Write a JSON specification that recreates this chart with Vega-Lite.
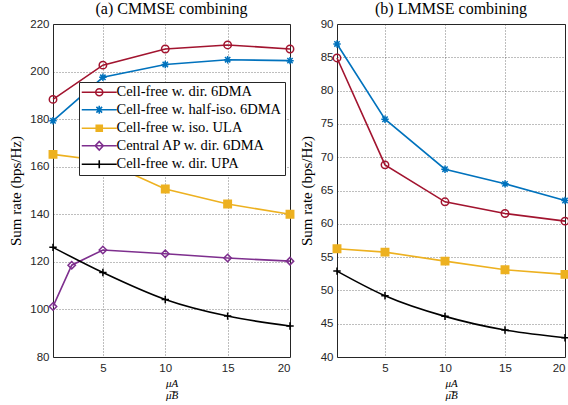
{
  "$schema": "https://vega.github.io/schema/vega-lite/v6.json",
  "padding": {"left": 8, "top": 0, "right": 0, "bottom": 0},
  "spacing": 0,
  "background": "white",
  "datasets": {
    "rates": [
      {"panel": "a", "series": "Cell-free w. dir. 6DMA", "x": 1, "y": 188.3},
      {"panel": "a", "series": "Cell-free w. dir. 6DMA", "x": 5, "y": 202.7},
      {"panel": "a", "series": "Cell-free w. dir. 6DMA", "x": 10, "y": 209.5},
      {"panel": "a", "series": "Cell-free w. dir. 6DMA", "x": 15, "y": 211.2},
      {"panel": "a", "series": "Cell-free w. dir. 6DMA", "x": 20, "y": 209.5},
      {"panel": "a", "series": "Cell-free w. half-iso. 6DMA", "x": 1, "y": 179.3},
      {"panel": "a", "series": "Cell-free w. half-iso. 6DMA", "x": 5, "y": 197.6},
      {"panel": "a", "series": "Cell-free w. half-iso. 6DMA", "x": 10, "y": 203.0},
      {"panel": "a", "series": "Cell-free w. half-iso. 6DMA", "x": 15, "y": 205.0},
      {"panel": "a", "series": "Cell-free w. half-iso. 6DMA", "x": 20, "y": 204.6},
      {"panel": "a", "series": "Cell-free w. iso. ULA", "x": 1, "y": 165.2},
      {"panel": "a", "series": "Cell-free w. iso. ULA", "x": 5, "y": 162.5},
      {"panel": "a", "series": "Cell-free w. iso. ULA", "x": 10, "y": 150.6},
      {"panel": "a", "series": "Cell-free w. iso. ULA", "x": 15, "y": 144.3},
      {"panel": "a", "series": "Cell-free w. iso. ULA", "x": 20, "y": 140.0},
      {"panel": "a", "series": "Central AP w. dir. 6DMA", "x": 1, "y": 101.2},
      {"panel": "a", "series": "Central AP w. dir. 6DMA", "x": 2.5, "y": 118.6},
      {"panel": "a", "series": "Central AP w. dir. 6DMA", "x": 5, "y": 125.0},
      {"panel": "a", "series": "Central AP w. dir. 6DMA", "x": 10, "y": 123.4},
      {"panel": "a", "series": "Central AP w. dir. 6DMA", "x": 15, "y": 121.6},
      {"panel": "a", "series": "Central AP w. dir. 6DMA", "x": 20, "y": 120.3},
      {"panel": "a", "series": "Cell-free w. dir. UPA", "x": 1, "y": 126.1},
      {"panel": "a", "series": "Cell-free w. dir. UPA", "x": 5, "y": 115.5},
      {"panel": "a", "series": "Cell-free w. dir. UPA", "x": 10, "y": 104.2},
      {"panel": "a", "series": "Cell-free w. dir. UPA", "x": 15, "y": 97.2},
      {"panel": "a", "series": "Cell-free w. dir. UPA", "x": 20, "y": 93.0},
      {"panel": "b", "series": "Cell-free w. dir. 6DMA", "x": 1, "y": 84.9},
      {"panel": "b", "series": "Cell-free w. dir. 6DMA", "x": 5, "y": 68.85},
      {"panel": "b", "series": "Cell-free w. dir. 6DMA", "x": 10, "y": 63.3},
      {"panel": "b", "series": "Cell-free w. dir. 6DMA", "x": 15, "y": 61.55},
      {"panel": "b", "series": "Cell-free w. dir. 6DMA", "x": 20, "y": 60.4},
      {"panel": "b", "series": "Cell-free w. half-iso. 6DMA", "x": 1, "y": 87.0},
      {"panel": "b", "series": "Cell-free w. half-iso. 6DMA", "x": 5, "y": 75.7},
      {"panel": "b", "series": "Cell-free w. half-iso. 6DMA", "x": 10, "y": 68.2},
      {"panel": "b", "series": "Cell-free w. half-iso. 6DMA", "x": 15, "y": 66.0},
      {"panel": "b", "series": "Cell-free w. half-iso. 6DMA", "x": 20, "y": 63.5},
      {"panel": "b", "series": "Cell-free w. iso. ULA", "x": 1, "y": 56.25},
      {"panel": "b", "series": "Cell-free w. iso. ULA", "x": 5, "y": 55.75},
      {"panel": "b", "series": "Cell-free w. iso. ULA", "x": 10, "y": 54.4},
      {"panel": "b", "series": "Cell-free w. iso. ULA", "x": 15, "y": 53.1},
      {"panel": "b", "series": "Cell-free w. iso. ULA", "x": 20, "y": 52.4},
      {"panel": "b", "series": "Cell-free w. dir. UPA", "x": 1, "y": 52.9},
      {"panel": "b", "series": "Cell-free w. dir. UPA", "x": 5, "y": 49.2},
      {"panel": "b", "series": "Cell-free w. dir. UPA", "x": 10, "y": 46.1},
      {"panel": "b", "series": "Cell-free w. dir. UPA", "x": 15, "y": 44.05},
      {"panel": "b", "series": "Cell-free w. dir. UPA", "x": 20, "y": 42.9}
    ]
  },
  "config": {
    "view": {"stroke": "#262626", "strokeWidth": 1},
    "axis": {
      "labelFont": "Liberation Sans",
      "labelFontSize": 11.5,
      "labelColor": "#262626",
      "titleFont": "Liberation Serif",
      "titleFontWeight": "normal",
      "titleColor": "#000000",
      "domain": false,
      "ticks": false,
      "grid": true,
      "gridColor": "#262626",
      "gridDash": [1, 2],
      "gridOpacity": 0.6,
      "gridWidth": 1
    },
    "title": {"font": "Liberation Serif", "fontSize": 16, "fontWeight": "normal", "color": "#000000", "offset": 1},
    "legend": {
      "labelFont": "Liberation Serif",
      "labelFontSize": 14.5,
      "labelColor": "#000000",
      "labelLimit": 400
    }
  },
  "hconcat": [
    {
      "width": 237,
      "height": 333,
      "title": "(a) CMMSE combining",
      "data": {"name": "rates"},
      "transform": [{"filter": "datum.panel === 'a'"}, {"calculate": "datum.series", "as": "marker"}],
      "encoding": {
        "x": {"field": "x", "type": "quantitative", "scale": {"domain": [1, 20], "nice": false, "zero": false},
              "axis": {"values": [5, 10, 15, 20], "title": ["μA", "μ̅B̅"], "titleFontSize": 11, "titleFontStyle": "italic", "titlePadding": 4, "titleLineHeight": 12, "labelPadding": 5}},
        "y": {"field": "y", "type": "quantitative", "scale": {"domain": [80, 220], "nice": false, "zero": false},
              "axis": {"values": [80, 100, 120, 140, 160, 180, 200, 220], "title": "Sum rate (bps/Hz)", "titleFontSize": 15, "titlePadding": 6, "labelPadding": 4}},
        "color": {"field": "series", "type": "nominal",
                  "scale": {"domain": ["Cell-free w. dir. 6DMA", "Cell-free w. half-iso. 6DMA", "Cell-free w. iso. ULA", "Central AP w. dir. 6DMA", "Cell-free w. dir. UPA"],
                            "range": ["#A2142F", "#0072BD", "#EDB120", "#7E2F8E", "#000000"]},
                  "legend": {
                    "title": null,
                    "orient": "none",
                    "legendX": 26,
                    "legendY": 58,
                    "fillColor": "white",
                    "strokeColor": "#262626",
                    "padding": 3,
                    "rowPadding": 2.5,
                    "labelOffset": 10,
                    "symbolSize": 100,
                    "symbolStrokeWidth": 1.6,
                    "symbolOffset": 10,
                    "symbolType": "M-3.5,0L3.5,0",
                    "encode": {
                      "symbols": {
                        "update": {
                          "shape": {"signal": "datum.value === 'Cell-free w. dir. 6DMA' ? 'M-3.5,0L3.5,0M-0.7,0A0.7,0.7 0 1,1 0.7,0A0.7,0.7 0 1,1 -0.7,0Z' : datum.value === 'Cell-free w. half-iso. 6DMA' ? 'M-3.5,0L3.5,0M0,-0.8L0,0.8M-0.57,-0.57L0.57,0.57M-0.57,0.57L0.57,-0.57' : datum.value === 'Cell-free w. iso. ULA' ? 'M-3.5,0L3.5,0M-0.6,-0.6L0.6,-0.6L0.6,0.6L-0.6,0.6Z' : datum.value === 'Central AP w. dir. 6DMA' ? 'M-3.5,0L3.5,0M0,-0.85L0.8,0L0,0.85L-0.8,0Z' : 'M-3.5,0L3.5,0M0,-0.8L0,0.8'"},
                          "fill": {"signal": "datum.value === 'Cell-free w. iso. ULA' ? '#EDB120' : 'white'"},
                          "fillOpacity": {"value": 1},
                          "strokeWidth": {"value": 1.6}
                        }
                      }
                    }
                  }}
      },
      "layer": [
        {
          "transform": [{"filter": "datum.series !== 'Cell-free w. dir. UPA'"}],
          "mark": {"type": "line", "strokeWidth": 1.6},
          "encoding": {}
        },
        {
          "transform": [{"filter": "datum.series === 'Cell-free w. dir. UPA'"}],
          "mark": {"type": "line", "strokeWidth": 1.6, "interpolate": "monotone"},
          "encoding": {}
        },
        {
          "mark": {"type": "point", "strokeWidth": 1.5, "opacity": 1},
          "encoding": {
            "shape": {"field": "marker", "type": "nominal", "legend": null,
                      "scale": {"range": ["circle", "M-1,0L1,0M0,-1L0,1", "M-1,0L1,0M0,-1L0,1M-0.72,-0.72L0.72,0.72M-0.72,0.72L0.72,-0.72", "square", "diamond"]}},
            "fill": {"field": "marker", "type": "nominal", "legend": null,
                     "scale": {"range": ["transparent", "transparent", "transparent", "#EDB120", "transparent"]}},
            "size": {"value": 55}
          }
        }
      ]
    },
    {
      "width": 228,
      "height": 333,
      "title": "(b) LMMSE combining",
      "data": {"name": "rates"},
      "transform": [{"filter": "datum.panel === 'b'"}, {"calculate": "datum.series", "as": "marker"}],
      "encoding": {
        "x": {"field": "x", "type": "quantitative", "scale": {"domain": [1, 20], "nice": false, "zero": false},
              "axis": {"values": [5, 10, 15, 20], "title": ["μA", "μ̅B̅"], "titleFontSize": 11, "titleFontStyle": "italic", "titlePadding": 4, "titleLineHeight": 12, "labelPadding": 5}},
        "y": {"field": "y", "type": "quantitative", "scale": {"domain": [40, 90], "nice": false, "zero": false},
              "axis": {"values": [40, 45, 50, 55, 60, 65, 70, 75, 80, 85, 90], "title": "Sum rate (bps/Hz)", "titleFontSize": 15, "titlePadding": 6, "labelPadding": 4}},
        "color": {"field": "series", "type": "nominal", "legend": null,
                  "scale": {"domain": ["Cell-free w. dir. 6DMA", "Cell-free w. half-iso. 6DMA", "Cell-free w. iso. ULA", "Central AP w. dir. 6DMA", "Cell-free w. dir. UPA"],
                            "range": ["#A2142F", "#0072BD", "#EDB120", "#7E2F8E", "#000000"]}}
      },
      "layer": [
        {
          "transform": [{"filter": "datum.series !== 'Cell-free w. dir. UPA'"}],
          "mark": {"type": "line", "strokeWidth": 1.6},
          "encoding": {}
        },
        {
          "transform": [{"filter": "datum.series === 'Cell-free w. dir. UPA'"}],
          "mark": {"type": "line", "strokeWidth": 1.6, "interpolate": "monotone"},
          "encoding": {}
        },
        {
          "mark": {"type": "point", "strokeWidth": 1.5, "opacity": 1},
          "encoding": {
            "shape": {"field": "marker", "type": "nominal", "legend": null,
                      "scale": {"range": ["circle", "M-1,0L1,0M0,-1L0,1", "M-1,0L1,0M0,-1L0,1M-0.72,-0.72L0.72,0.72M-0.72,0.72L0.72,-0.72", "square", "diamond"]}},
            "fill": {"field": "marker", "type": "nominal", "legend": null,
                     "scale": {"range": ["transparent", "transparent", "transparent", "#EDB120", "transparent"]}},
            "size": {"value": 55}
          }
        }
      ]
    }
  ],
  "resolve": {"scale": {"color": "independent", "shape": "independent", "fill": "independent", "x": "independent", "y": "independent"}, "legend": {"color": "independent"}}
}
